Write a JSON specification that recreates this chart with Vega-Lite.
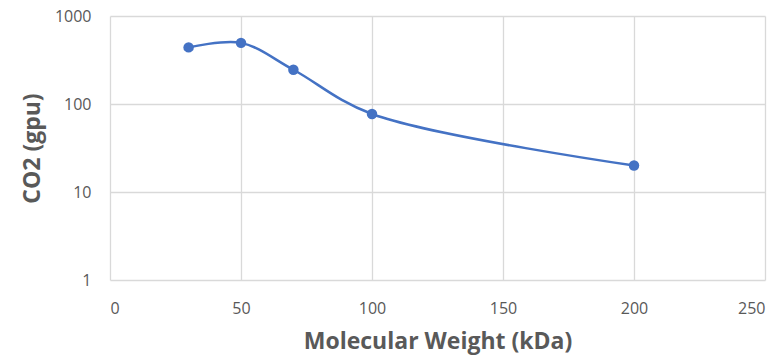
{
  "$schema": "https://vega.github.io/schema/vega-lite/v6.json",
  "autosize": {"type": "none"},
  "width": 655,
  "height": 264,
  "padding": {"left": 110, "top": 16, "right": 19, "bottom": 77},
  "background": "white",
  "config": {
    "view": {"stroke": null},
    "font": "Open Sans",
    "axis": {
      "domain": false,
      "ticks": false,
      "grid": true,
      "gridColor": "#d9d9d9",
      "gridWidth": 1.3,
      "labelColor": "#595959",
      "labelFont": "Open Sans",
      "labelFontSize": 16,
      "titleColor": "#595959",
      "titleFont": "Open Sans",
      "titleFontSize": 23,
      "titleFontWeight": "bold"
    }
  },
  "data": {
    "values": [
      {"mw": 30, "co2": 440},
      {"mw": 50, "co2": 495},
      {"mw": 70, "co2": 245},
      {"mw": 100, "co2": 77},
      {"mw": 200, "co2": 20}
    ]
  },
  "encoding": {
    "x": {
      "field": "mw",
      "type": "quantitative",
      "scale": {"domain": [0, 250], "nice": false},
      "axis": {"values": [0, 50, 100, 150, 200, 250], "labelPadding": 20, "title": "Molecular Weight (kDa)", "titlePadding": 14}
    },
    "y": {
      "field": "co2",
      "type": "quantitative",
      "scale": {"type": "log", "domain": [1, 1000], "nice": false},
      "axis": {"values": [1, 10, 100, 1000], "format": "d", "labelPadding": 19, "title": "CO2 (gpu)", "titlePadding": 10}
    }
  },
  "layer": [
    {"mark": {"type": "line", "interpolate": "catmull-rom", "color": "#4472c4", "strokeWidth": 2.5}},
    {"mark": {"type": "point", "filled": true, "color": "#4472c4", "opacity": 1, "size": 110}}
  ]
}
